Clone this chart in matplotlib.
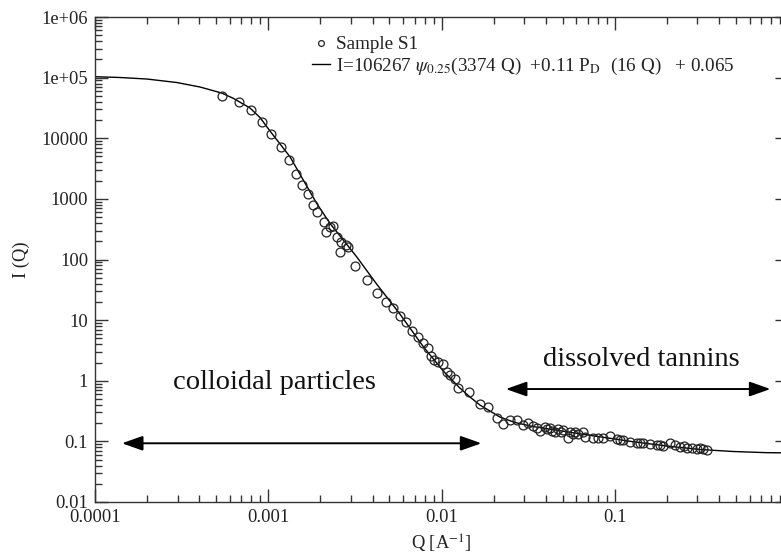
import matplotlib
matplotlib.use("Agg")
import matplotlib.pyplot as plt
from matplotlib.ticker import LogLocator, NullFormatter

plt.rcParams['font.family'] = ['Liberation Serif', 'DejaVu Serif']
plt.rcParams['mathtext.fontset'] = 'stix'

# ---- data ----
q_data = [5.38e-4, 6.77e-4, 7.92e-4, 9.19e-4, 1.041e-3, 1.179e-3, 1.316e-3, 1.445e-3,
          1.565e-3, 1.694e-3, 1.810e-3, 1.923e-3, 2.096e-3, 2.153e-3, 2.270e-3, 2.377e-3,
          2.481e-3, 2.627e-3, 2.610e-3, 2.797e-3, 2.903e-3, 3.165e-3, 3.697e-3, 4.222e-3,
          4.777e-3, 5.222e-3, 5.754e-3, 6.255e-3, 6.795e-3, 7.338e-3, 7.841e-3, 8.380e-3,
          8.685e-3, 9.04e-3, 9.57e-3, 1.023e-2, 1.070e-2, 1.118e-2, 1.195e-2, 1.249e-2,
          1.439e-2, 1.677e-2, 1.860e-2, 2.080e-2, 2.270e-2, 2.482e-2, 2.712e-2, 2.960e-2,
          3.165e-2, 3.381e-2, 3.538e-2, 3.697e-2, 3.951e-2, 4.057e-2, 4.222e-2, 4.335e-2,
          4.512e-2, 4.713e-2, 4.887e-2, 5.037e-2, 5.383e-2, 5.506e-2, 5.731e-2, 5.886e-2,
          6.149e-2, 6.572e-2, 6.722e-2, 7.505e-2, 7.99e-2, 8.571e-2, 9.37e-2, 0.1024,
          0.1070, 0.1118, 0.1222, 0.1336, 0.1396, 0.1459, 0.1594, 0.1742, 0.1821, 0.1903,
          0.2080, 0.2223, 0.2375, 0.2505, 0.2597, 0.2775, 0.2965, 0.3098, 0.3236, 0.3386]
i_data = [4.98e4, 4.01e4, 2.92e4, 1.875e4, 1.175e4, 7090, 4378, 2572,
          1694, 1181, 793, 608, 416, 284, 344, 357,
          239, 197, 133, 173, 161, 78.2, 45.9, 28.3,
          20.1, 15.7, 11.7, 9.31, 6.74, 5.27, 4.20, 3.47,
          2.56, 2.16, 2.06, 1.89, 1.41, 1.24, 1.05, 0.751,
          0.659, 0.406, 0.369, 0.246, 0.191, 0.225, 0.225, 0.186,
          0.199, 0.181, 0.168, 0.148, 0.175, 0.160, 0.168, 0.151,
          0.144, 0.160, 0.143, 0.154, 0.112, 0.144, 0.132, 0.141,
          0.131, 0.141, 0.119, 0.115, 0.1116, 0.115, 0.124, 0.109,
          0.1034, 0.1054, 0.0988, 0.0951, 0.0940, 0.0929, 0.0895, 0.0871, 0.0855, 0.0848,
          0.0929, 0.0871, 0.0817, 0.0839, 0.0787, 0.0769, 0.0748, 0.0763, 0.0740, 0.0721]

q_fit = [1.0e-4, 1.394e-4, 1.988e-4, 2.96e-4, 4.04e-4, 5.384e-4, 6.28e-4, 7.84e-4,
         8.96e-4, 1.023e-3, 1.334e-3, 1.592e-3, 1.902e-3, 2.270e-3, 2.709e-3, 3.236e-3,
         4.222e-3, 5.754e-3, 7.841e-3, 1.023e-2, 1.277e-2, 1.459e-2, 1.666e-2, 1.902e-2,
         2.173e-2, 2.652e-2, 3.368e-2, 5.29e-2, 8.20e-2, 0.1272, 0.1998, 0.3098,
         0.4802, 0.7545, 1.0]
i_fit = [1.036e5, 1.005e5, 9.49e4, 8.31e4, 7.0e4, 5.57e4, 4.56e4, 3.16e4,
         2.20e4, 1.318e4, 4963, 2048, 845, 395, 210, 111,
         39.4, 12.6, 3.67, 1.45, 0.758, 0.540, 0.398, 0.317,
         0.252, 0.205, 0.176, 0.144, 0.119, 0.0988, 0.0839, 0.0735,
         0.0681, 0.0651, 0.0646]

ytick_values = [0.01, 0.1, 1, 10, 100, 1000, 10000, 1e5, 1e6]
ytick_labels = ["0.01", "0.1", "1", "10", "100", "1000", "10000", "1e+05", "1e+06"]
xtick_values = [1e-4, 1e-3, 1e-2, 1e-1, 1]
xtick_labels = ["0.0001", "0.001", "0.01", "0.1", ""]

legend_labels = ["Sample S1",
                 r"I=106267 $\psi_{0.25}$(3374 Q)  +0.11 P$_{\mathrm{D}}$  (16 Q)   + 0.065"]
colloid_range = [1.43e-4, 0.0170]
colloid_level = 0.093
tannin_range = [0.02352, 0.792]
tannin_level = 0.73

# ---- figure ----
W, H = 781, 557
fig = plt.figure(figsize=(W / 100, H / 100), dpi=100)
ax = fig.add_axes([95 / W, 55 / H, 693 / W, 485 / H])

ax.set_xscale('log')
ax.set_yscale('log')
ax.set_xlim(1e-4, 1)
ax.set_ylim(0.01, 1e6)

fit_line, = ax.plot(q_fit, i_fit, color='black', lw=1.0)
pts, = ax.plot(q_data, i_data, linestyle='none', marker='o', markersize=6.4,
               markerfacecolor='none', markeredgecolor='#222222', markeredgewidth=0.9)

ax.set_yticks(ytick_values)
ax.set_yticklabels(ytick_labels)
ax.set_xticks(xtick_values)
ax.set_xticklabels(xtick_labels)
ax.xaxis.set_minor_locator(LogLocator(base=10, subs=range(2, 10), numticks=20))
ax.yaxis.set_minor_locator(LogLocator(base=10, subs=range(2, 10), numticks=20))
ax.xaxis.set_minor_formatter(NullFormatter())
ax.yaxis.set_minor_formatter(NullFormatter())

ax.tick_params(which='both', direction='in', top=True, right=True,
               color='#333333', width=1.0, labelsize=13.3, labelcolor='#222222')
ax.tick_params(which='major', length=9.5, pad=5)
ax.tick_params(which='minor', length=5)
for s in ax.spines.values():
    s.set_color('#333333')
    s.set_linewidth(1.0)

ax.set_xlabel(r"Q [A$^{\mathrm{-1}}$]", fontsize=13.3, labelpad=5, color='#222222')
ax.set_ylabel("I (Q)", fontsize=13.3, labelpad=8, color='#222222')

# legend
ax.legend([pts, fit_line], legend_labels, loc='upper left',
          bbox_to_anchor=((312 - 95) / 693, (502 - 36) / 485),
          frameon=False, fontsize=13.8, handlelength=0.93, handletextpad=0.3,
          borderpad=0, borderaxespad=0, labelspacing=0.12, markerscale=0.65,
          labelcolor='#222222')

# annotations
arrow_kw = dict(arrowstyle='<|-|>,head_length=0.85,head_width=0.3',
                color='black', lw=1.4, mutation_scale=15, shrinkA=0, shrinkB=0)
ax.annotate('', xy=(colloid_range[1], colloid_level), xytext=(colloid_range[0], colloid_level),
            arrowprops=arrow_kw)
ax.annotate('', xy=(tannin_range[1], tannin_level), xytext=(tannin_range[0], tannin_level),
            arrowprops=arrow_kw)
ax.text(1.08e-3, 0.92, "colloidal particles", fontsize=20.5, ha='center', va='center',
        color='#111111')
ax.text(0.1416, 2.2, "dissolved tannins", fontsize=20.5, ha='center', va='center',
        color='#111111')

fig.savefig("out.png", dpi=100)
